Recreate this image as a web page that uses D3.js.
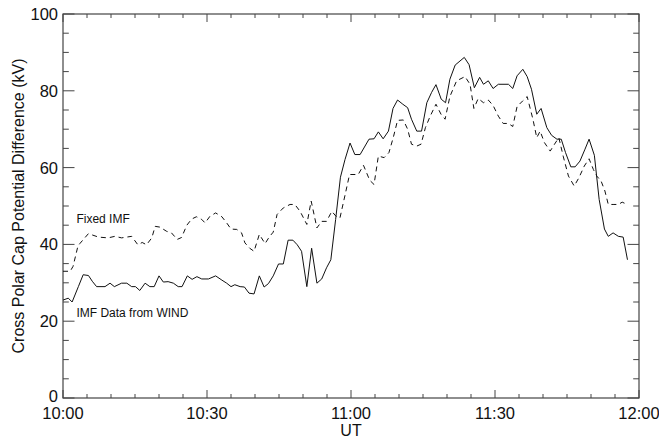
<!DOCTYPE html>
<html><head><meta charset="utf-8">
<script src="https://cdn.jsdelivr.net/npm/d3@7"></script>
<style>body{margin:0;background:#fff}svg{display:block}text{font-family:"Liberation Sans",Arial,sans-serif;fill:#111}</style>
</head><body><svg id="c" width="659" height="438"></svg>
<script>
// Minutes after 10:00 UT
const windTimes = [0,1.1,1.9,3.2,4.2,5.3,6.1,7.0,8.75,9.8,10.7,12.2,13.3,14.3,15.1,16.0,17.1,18.1,19.0,20.0,20.9,21.9,23.0,24.0,24.8,25.9,26.9,27.9,28.9,30.3,31.8,33.1,34.1,35.0,35.8,36.9,37.8,38.75,39.8,40.9,41.9,42.8,43.8,44.9,45.9,46.9,47.9,48.8,49.7,50.8,51.8,52.9,53.9,54.9,55.8,56.8,57.8,58.75,59.8,60.8,61.9,63.75,64.8,65.7,66.7,67.8,68.75,69.7,70.8,71.8,72.6,73.7,74.7,75.8,76.8,77.7,78.8,79.7,80.6,81.7,83.6,84.6,85.7,86.8,87.6,88.6,89.6,90.7,92.8,93.7,94.6,95.8,96.7,97.6,98.7,99.6,100.8,101.8,102.9,103.8,104.7,105.8,106.7,107.7,108.75,109.6,110.7,111.7,112.8,113.6,114.6,115.7,116.7,117.6];
const windValues = [25.5,26,25,29,32.1,31.9,30.4,29,29,29.9,29,29.9,29.9,29,29,28,29.9,29,29,31.8,30.2,30.3,29.9,29,29,31.8,30.9,31.6,31,31,31.8,30.7,29.9,29,29.5,29,28.9,27.3,27.1,31.8,28.9,29.8,31.8,34.9,34.9,41.1,41.1,39.9,38.2,29,39,29.9,31,33.9,36,46.5,57.5,62.1,66.4,63.4,63.4,67.4,67.5,69.3,67.5,69.5,75.4,77.6,76.5,75.6,72.6,69.5,69.5,76.9,79.6,81.6,77.8,76.9,83,86.7,88.7,86.8,80.8,83.5,81.7,82.6,80.6,81.7,81.7,80.6,83.9,85.6,83.7,80.4,73.9,75.4,70.4,68.4,67.4,67.4,63.9,60.2,60.2,61.7,64.8,67.4,63.2,51.7,44,42.1,43,42.1,41.9,36];
const fixedTimes = [0,1.5,2.1,3.1,3.5,5.3,7.4,9.4,10.8,12.2,14.3,15.6,16.5,17.4,18.5,19.2,20.2,21.6,22.6,23.8,24.7,25.8,26.8,27.8,28.9,29.6,30.6,31.8,33.1,34.1,35.0,36.2,37.2,37.9,38.9,39.8,40.9,42.1,43.0,43.8,44.6,45.9,47.3,48.3,49.4,50.8,51.7,52.9,53.9,54.9,56.0,56.9,57.7,58.75,59.7,61.5,62.6,63.9,64.8,65.7,66.9,67.9,68.8,69.7,70.9,71.8,72.6,73.7,74.6,75.5,76.5,77.7,78.75,79.6,80.6,82.0,83.75,84.8,85.6,86.5,87.6,88.6,89.6,90.7,91.7,92.8,93.7,94.6,95.8,96.7,97.9,98.7,99.4,100.3,101.5,102.4,103.3,104.2,105.3,106.5,107.5,108.6,109.6,110.5,111.2,112.1,112.9,113.6,114.6,115.7,116.5,117.2];
const fixedValues = [33,33,34.3,39.5,40.2,42.8,41.9,41.7,42.1,41.7,42.1,39.9,40.5,39.9,41.7,44.7,44.5,43.4,43,41.3,41.8,45,46.6,47.2,46.5,45.6,47.3,48.2,47.2,45.6,44,43.9,43,40.4,39,38.2,42.6,40.2,42,43.2,47.8,49.5,50.4,50.4,48.6,45.2,51.3,44.3,46,46,48.6,47.3,46.9,52.8,58.2,58.2,60.6,56.7,55.6,63,62.6,63.9,67.8,72.3,72.4,70,66.1,65.6,66.1,70.4,73.4,76.5,73.9,72.6,78.5,82.6,83.7,81.7,75.4,78,76.9,77.6,76.2,73.4,71.5,71.5,70.7,75.9,77.4,78.5,72.6,67.8,69.5,66.5,64.3,66.1,67.8,63,57.8,55.2,57.4,60.4,62.3,59.5,57.8,56.5,53.9,50.4,50.4,50.4,51,50.6];
const xTickLabels = ["10:00","10:30","11:00","11:30","12:00"];
const yTickLabels = ["0","20","40","60","80","100"];
const labelFixed = "Fixed IMF";
const labelWind = "IMF Data from WIND";
const xTitle = "UT";
const yTitle = "Cross Polar Cap Potential Difference (kV)";

const svg = d3.select("#c");
const L=63,R=639,T=14,B=398;
const x = d3.scaleLinear().domain([0,120]).range([L,R]);
const y = d3.scaleLinear().domain([0,100]).range([B,T]);
const axisColor="#444";

// frame
svg.append("rect").attr("x",L).attr("y",T).attr("width",R-L).attr("height",B-T)
  .attr("fill","none").attr("stroke",axisColor).attr("stroke-width",1.2);

// ticks (inward on all sides)
const g = svg.append("g").attr("stroke",axisColor).attr("stroke-width",1);
d3.range(0,121,5).forEach(m=>{
  const major = m%30===0; const len = major?8:4;
  g.append("line").attr("x1",x(m)).attr("x2",x(m)).attr("y1",B).attr("y2",B-len);
  g.append("line").attr("x1",x(m)).attr("x2",x(m)).attr("y1",T).attr("y2",T+len);
});
d3.range(0,101,5).forEach(v=>{
  const major = v%20===0; const len = major?11.5:5.8;
  g.append("line").attr("x1",L).attr("x2",L+len).attr("y1",y(v)).attr("y2",y(v));
  g.append("line").attr("x1",R).attr("x2",R-len).attr("y1",y(v)).attr("y2",y(v));
});

// tick labels
xTickLabels.forEach((s,i)=>{
  svg.append("text").attr("x",x(i*30)).attr("y",B+21).attr("text-anchor","middle")
    .attr("font-size",16.5).text(s);
});
yTickLabels.forEach((s,i)=>{
  svg.append("text").attr("x",L-5).attr("y",y(i*20)+(i===0?4:6)).attr("text-anchor","end")
    .attr("font-size",16.5).text(s);
});
svg.append("text").attr("x",(L+R)/2-0).attr("y",436).attr("text-anchor","middle")
  .attr("font-size",16).text(xTitle);
svg.append("text").attr("transform",`translate(24,${(T+B)/2}) rotate(-90)`)
  .attr("text-anchor","middle").attr("font-size",16).text(yTitle);

// lines
const line = (ts,vs)=>d3.line().x((d,i)=>x(ts[i])).y((d,i)=>y(vs[i]))(vs);
svg.append("path").attr("d",line(windTimes,windValues)).attr("fill","none")
  .attr("stroke","#111").attr("stroke-width",1);
svg.append("path").attr("d",line(fixedTimes,fixedValues)).attr("fill","none")
  .attr("stroke","#111").attr("stroke-width",1).attr("stroke-dasharray","5,4");

// labels
svg.append("text").attr("x",x(2.8)).attr("y",y(45.5)).attr("font-size",12).text(labelFixed);
svg.append("text").attr("x",x(2.8)).attr("y",y(21)).attr("font-size",12).text(labelWind);
</script></body></html>
